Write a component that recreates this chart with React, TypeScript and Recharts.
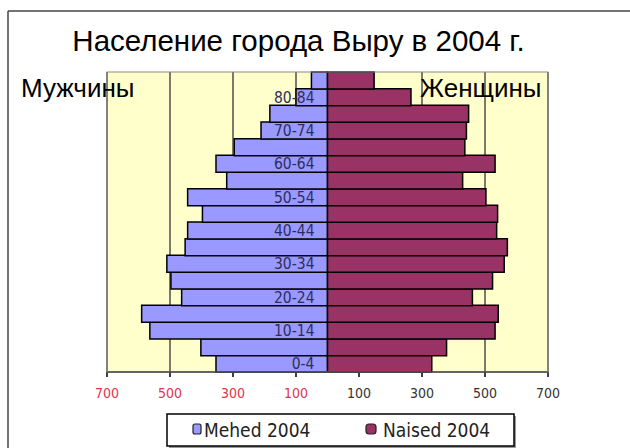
import React from "react";
import { BarChart, Bar, XAxis, YAxis, CartesianGrid, LabelList } from "recharts";

// Население города Выру, 2004 — age pyramid
const AGES = [
  "0-4", "5-9", "10-14", "15-19", "20-24", "25-29", "30-34", "35-39", "40-44",
  "45-49", "50-54", "55-59", "60-64", "65-69", "70-74", "75-79", "80-84", "85+",
];
const MEN = [354, 402, 564, 590, 463, 497, 510, 452, 444, 397, 444, 320, 354, 296, 211, 183, 100, 51];
const WOMEN = [331, 378, 532, 542, 460, 524, 561, 571, 537, 540, 503, 429, 532, 436, 441, 448, 265, 148];
const X_TICKS = [-700, -500, -300, -100, 100, 300, 500, 700];

const W = 630;
const H = 448;
const MARGIN = { top: 72, right: 82, bottom: 46, left: 107 };
const PLOT_W = W - MARGIN.left - MARGIN.right;
const SANS = "'Liberation Sans', Arial, sans-serif";
const SMALL = "'DejaVu Sans Condensed', 'DejaVu Sans', Tahoma, sans-serif";

const rows = AGES.map((age, i) => ({ age, men: -MEN[i], women: WOMEN[i] }));

function XTick({ x, y, payload }: any) {
  const v = payload.value as number;
  return (
    <text
      x={x}
      y={y}
      dy="0.71em"
      textAnchor="middle"
      fontFamily={SMALL}
      fontSize={14}
      fill={v < 0 ? "#e23350" : "#333"}
    >
      {Math.abs(v)}
    </text>
  );
}

// every other age group is labelled, just left of the zero line
function AgeLabel({ x, y, width, height, index, value }: any) {
  if (index % 2 !== 0) return null;
  const right = Math.max(x, x + width);
  return (
    <text
      x={right - 13}
      y={y + height / 2}
      dy="0.36em"
      textAnchor="end"
      fontFamily={SMALL}
      fontSize={15.5}
      fill="#2e2e5c"
    >
      {value}
    </text>
  );
}

export default function App() {
  return (
    <div style={{ position: "absolute", left: 0, top: 0, width: W, height: H, background: "#fff" }}>
      <BarChart
        width={W}
        height={H}
        data={rows}
        layout="vertical"
        margin={MARGIN}
        barCategoryGap={0}
        stackOffset="sign"
      >
        <CartesianGrid horizontal={false} stroke="#333" strokeWidth={1.3} fill="#ffffcc" fillOpacity={1} />
        <XAxis
          type="number"
          domain={[-700, 700]}
          ticks={X_TICKS}
          allowDataOverflow
          height={30}
          tickSize={5}
          tickMargin={11}
          axisLine={{ stroke: "#000", strokeWidth: 1.5 }}
          tickLine={{ stroke: "#000", strokeWidth: 1.5 }}
          tick={<XTick />}
        />
        <YAxis type="category" dataKey="age" reversed width={0} hide />
        <Bar dataKey="men" stackId="p" fill="#9999ff" stroke="#000" strokeWidth={1.5} isAnimationActive={false}>
          <LabelList dataKey="age" content={<AgeLabel />} />
        </Bar>
        <Bar dataKey="women" stackId="p" fill="#993366" stroke="#000" strokeWidth={1.5} isAnimationActive={false} />
      </BarChart>
      <svg width={W} height={H} style={{ position: "absolute", left: 0, top: 0, pointerEvents: "none" }}>
        <rect x={MARGIN.left} y={MARGIN.top} width={PLOT_W} height={H - MARGIN.top - MARGIN.bottom - 30} fill="none" stroke="#8a8a8a" strokeWidth={1} />
        <line x1={8} y1={11} x2={8} y2={H} stroke="#444" strokeWidth={1.5} />
        <line x1={8} y1={11} x2={W} y2={11} stroke="#444" strokeWidth={1.5} />
        <text x={298.5} y={51} textAnchor="middle" fontFamily={SANS} fontSize={29.5} fill="#000">
          Население города Выру в 2004 г.
        </text>
        <text x={21} y={97} fontFamily={SANS} fontSize={26} fill="#000">Мужчины</text>
        <text x={420} y={97} fontFamily={SANS} fontSize={26} fill="#000">Женщины</text>
        <rect x={169} y={416} width={347} height={32} fill="#999" />
        <rect x={167} y={414} width={347} height={32} fill="#fff" stroke="#000" strokeWidth={1.5} />
        <rect x={193} y={424} width={8} height={10} rx={2} fill="#9999ff" stroke="#222" strokeWidth={1.2} />
        <text x={204} y={437} fontFamily={SMALL} fontSize={19} fill="#222">Mehed 2004</text>
        <rect x={366} y={424} width={10} height={10} rx={3} fill="#993366" stroke="#222" strokeWidth={1.2} />
        <text x={383} y={437} fontFamily={SMALL} fontSize={19} fill="#222">Naised 2004</text>
      </svg>
    </div>
  );
}
